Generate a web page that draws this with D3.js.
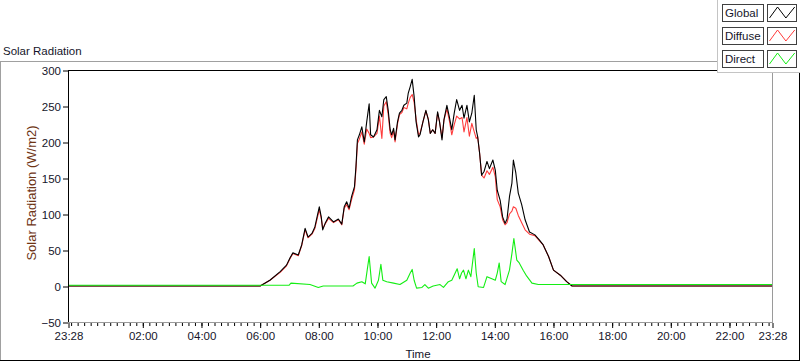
<!DOCTYPE html>
<html>
<head>
<meta charset="utf-8">
<script src="https://cdn.jsdelivr.net/npm/d3@7"></script>
<style>
  html, body { margin: 0; padding: 0; background: #ffffff; }
  svg { display: block; }
  text { font-family: "Liberation Sans", Arial, sans-serif; }
</style>
</head>
<body>
<svg id="chart" width="800" height="361"></svg>
<script>
// ---------------- DATA ----------------
// Times are "HH:MM". The first entry of each times array ("23:28") belongs to the previous day.
const globalTimes = ["23:28","06:01","06:21","06:42","06:55","07:02","07:08","07:19","07:26","07:33","07:39","07:47","07:53",
  "08:02","08:06","08:09","08:14","08:21","08:31","08:41","08:48","08:53","08:58","09:03","09:08","09:14","09:17","09:20",
  "09:24","09:29","09:34","09:39","09:44","09:47","09:53","10:00","10:05","10:10","10:14","10:19","10:23","10:27","10:30",
  "10:34","10:37","10:42","10:46","10:51","10:55","11:01","11:04","11:08","11:12","11:16","11:20","11:25","11:28","11:34",
  "11:40","11:45","11:49","11:54","11:59","12:04","12:08","12:13","12:17","12:23","12:28","12:33","12:38","12:43","12:49",
  "12:54","12:58","13:04","13:09","13:14","13:19","13:23","13:26","13:30","13:34","13:39","13:45","13:50","13:57","14:02",
  "14:06","14:12","14:17","14:22","14:26","14:31","14:36","14:39","14:44","14:49","14:56","15:03","15:12","15:23","15:32",
  "15:40","15:51","16:01","16:15","16:28","16:39","23:28"];
const globalValues = [0,0,8,20,29,39,46,43,57,80,68,73,82,
  110,96,78,87,96,89,93,86,110,117,108,124,138,166,203,
  210,221,200,228,253,210,207,217,244,235,259,263,244,217,210,
  219,203,228,240,244,251,254,268,277,287,263,228,207,210,228,
  244,231,212,217,212,242,228,203,231,251,235,217,240,259,244,
  251,233,251,228,240,265,217,207,184,154,159,173,163,175,161,
  133,119,96,87,93,124,143,175,157,129,113,92,75,71,64,
  57,41,22,15,6,0,0];

const diffuseTimes = globalTimes;
const diffuseValues = [0,0,8,19,28,38,45,42,56,78,67,72,80,
  106,94,80,86,94,88,92,85,108,113,106,120,134,162,198,
  204,214,197,218,212,206,207,212,236,205,250,256,238,212,206,
  215,200,225,238,241,248,246,254,262,266,255,232,210,212,228,
  243,232,212,217,212,240,228,206,230,246,230,210,224,236,232,
  234,214,234,208,226,214,205,207,184,154,150,160,155,165,152,
  120,110,92,85,88,100,104,110,108,98,88,78,72,70,63,
  57,41,22,15,6,0,0];

const directTimes = ["23:28","07:00","07:04","07:43","08:00","08:10","09:11","09:19","09:29","09:36","09:40","09:44","09:49",
  "09:56","10:03","10:08","10:12","10:20","10:34","10:47","11:01","11:08","11:12","11:16","11:21","11:32","11:38","11:45",
  "11:55","12:09","12:16","12:26","12:33","12:40","12:44","12:49","12:53","12:57","13:02","13:07","13:12","13:19","13:23",
  "13:27","13:38","13:45","13:55","14:02","14:06","14:10","14:14","14:22","14:31","14:36","14:40","14:46","14:51","14:59",
  "15:06","15:17","15:30","23:28"];
const directValues = [1,1,4,2,-2,0,0,4,6,3,22,41,4,
  -3,8,30,8,6,4,2,8,18,23,8,-3,-2,2,-3,
  0,2,-2,6,8,18,24,10,18,22,10,22,13,52,18,
  -1,-2,13,10,8,18,32,6,2,22,45,66,36,32,22,
  14,4,2,2];

const seriesNames = ["Global", "Diffuse", "Direct"];
const seriesColors = ["#000000", "#ff3c3c", "#14ee14"];

const yTicks = [-50, 0, 50, 100, 150, 200, 250, 300];
const xTickLabels = ["23:28","02:00","04:00","06:00","08:00","10:00","12:00","14:00","16:00","18:00","20:00","22:00","23:28"];
const chartTitle = "Solar Radiation";
const yTitle = "Solar Radiation (W/m2)";
const xTitle = "Time";

// ---------------- SETUP ----------------
const parseT = d3.timeParse("%Y-%m-%d %H:%M");
const toDate = (s, i) => parseT((i === 0 ? "2000-01-01 " : "2000-01-02 ") + s);
const tStart = parseT("2000-01-01 23:28");
const tEnd = parseT("2000-01-02 23:28");
const midnight = parseT("2000-01-02 00:00");

const L = 68, R = 772, T = 70, B = 322;
const x = d3.scaleTime().domain([tStart, tEnd]).range([L, R]);
const y = d3.scaleLinear().domain([-50, 300]).range([B, T]);

const svg = d3.select("#chart");
const textColor = "#15152a";

// panel frame
svg.append("line").attr("x1", 0).attr("x2", 718).attr("y1", 61.5).attr("y2", 61.5).attr("stroke", "#a0a0a0");
svg.append("line").attr("x1", 0.5).attr("x2", 0.5).attr("y1", 61).attr("y2", 361).attr("stroke", "#a0a0a0");
svg.append("line").attr("x1", 0).attr("x2", 800).attr("y1", 360.5).attr("y2", 360.5).attr("stroke", "#000");
svg.append("line").attr("x1", 799.5).attr("x2", 799.5).attr("y1", 72).attr("y2", 361).attr("stroke", "#000");

// title
svg.append("text").attr("x", 3).attr("y", 55).attr("font-size", 11.5).attr("fill", textColor).text(chartTitle);

// plot frame
svg.append("rect").attr("x", L).attr("y", T).attr("width", R - L).attr("height", B - T).attr("fill", "#fff");
svg.append("line").attr("x1", L).attr("x2", 718).attr("y1", T + 0.5).attr("y2", T + 0.5).attr("stroke", "#000");
svg.append("line").attr("x1", L + 0.5).attr("x2", L + 0.5).attr("y1", T).attr("y2", B + 1).attr("stroke", "#000");
svg.append("line").attr("x1", R + 0.5).attr("x2", R + 0.5).attr("y1", T).attr("y2", B + 1).attr("stroke", "#9a9a9a");
svg.append("line").attr("x1", L).attr("x2", R + 1).attr("y1", B + 0.5).attr("y2", B + 0.5).attr("stroke", "#9a9a9a");

// y axis
const yAxis = d3.axisLeft(y).tickValues(yTicks).tickSize(5).tickPadding(2).tickFormat(d3.format("d"));
const gy = svg.append("g").attr("transform", `translate(${L},0.5)`).call(yAxis);
gy.select(".domain").remove();
gy.selectAll("line").attr("stroke", "#000");
gy.selectAll("text").attr("font-size", 11.5).attr("fill", textColor).attr("font-family", "Liberation Sans, Arial, sans-serif");

// x axis: minor ticks (every 1/9 of 2 hours, aligned to midnight)
const minorTicks = d3.range(-3, 110).map(i => new Date(midnight.getTime() + i * 800000))
  .filter(d => d >= tStart && d <= tEnd);
const gxm = svg.append("g").attr("transform", `translate(0.5,${B + 1})`)
  .call(d3.axisBottom(x).tickValues(minorTicks).tickSize(3).tickFormat(""));
gxm.select(".domain").remove();
gxm.selectAll("line").attr("stroke", "#000");

const majorTicks = xTickLabels.map((s, i) => i === 0 ? tStart : (i === xTickLabels.length - 1 ? tEnd : parseT("2000-01-02 " + s)));
const gx = svg.append("g").attr("transform", `translate(0.5,${B + 1})`)
  .call(d3.axisBottom(x).tickValues(majorTicks).tickSize(5).tickPadding(4).tickFormat((d, i) => xTickLabels[i]));
gx.select(".domain").remove();
gx.selectAll("line").attr("stroke", "#000");
gx.selectAll("text").attr("font-size", 11.5).attr("fill", textColor).attr("font-family", "Liberation Sans, Arial, sans-serif");

// axis titles
svg.append("text").attr("x", 418).attr("y", 358).attr("text-anchor", "middle")
  .attr("font-size", 11.5).attr("fill", textColor).text(xTitle);
svg.append("text").attr("transform", "translate(36,193) rotate(-90)").attr("text-anchor", "middle")
  .attr("font-size", 13).attr("fill", "#6e3414").text(yTitle);

// series
svg.append("clipPath").attr("id", "clip").append("rect").attr("x", L + 1).attr("y", T + 1).attr("width", R - L - 1).attr("height", B - T - 1);
const line = d3.line().x(d => x(d[0])).y(d => y(d[1]));
const build = (times, vals) => times.map((t, i) => [toDate(t, i), vals[i]]);
const seriesData = [build(globalTimes, globalValues), build(diffuseTimes, diffuseValues), build(directTimes, directValues)];
const gLines = svg.append("g").attr("clip-path", "url(#clip)");
[1, 0, 2].forEach(k => {
  gLines.append("path").datum(seriesData[k]).attr("d", line)
    .attr("fill", "none").attr("stroke", seriesColors[k]).attr("stroke-width", 1.1).attr("stroke-linejoin", "round");
});

// legend
const lg = svg.append("g");
lg.append("rect").attr("x", 717.5).attr("y", -1).attr("width", 84).attr("height", 73.5).attr("fill", "#fff").attr("stroke", "#c4c4c4");
const legX = d3.scaleLinear().domain([0, 1]).range([769.5, 795.5]);
seriesNames.forEach((name, i) => {
  const y0 = 4 + i * 23;
  lg.append("rect").attr("x", 722.5).attr("y", y0 + 0.5).attr("width", 41).attr("height", 17).attr("fill", "#fff").attr("stroke", "#404040");
  lg.append("text").attr("x", 725).attr("y", y0 + 13).attr("font-size", 11.5).attr("fill", textColor).text(name);
  lg.append("rect").attr("x", 767.5).attr("y", y0 + 0.5).attr("width", 29).attr("height", 17).attr("fill", "#fff").attr("stroke", "#404040");
  const zig = [[0, 0], [0.31, 1], [0.63, 0], [0.97, 1]];
  lg.append("path").attr("d", d3.line().x(p => legX(p[0])).y(p => y0 + 14 - p[1] * 11)(zig))
    .attr("fill", "none").attr("stroke", seriesColors[i]).attr("stroke-width", 1);
});
</script>
</body>
</html>
